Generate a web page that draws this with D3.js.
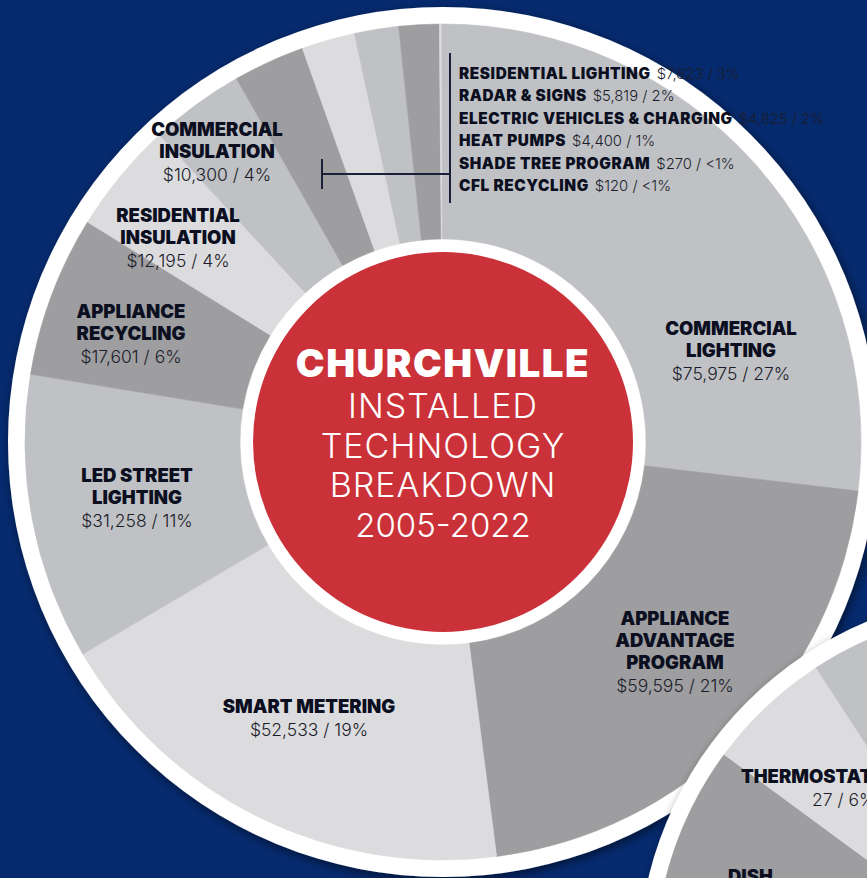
<!DOCTYPE html>
<html><head><meta charset="utf-8">
<script src="https://cdn.jsdelivr.net/npm/d3@7/dist/d3.min.js"></script>
<style>
html,body{margin:0;padding:0;background:#062a6e;overflow:hidden}
svg{display:block}
</style>
</head><body>
<svg id="c" width="867" height="878"></svg>
<script>
// ---------- DATA ----------
const categories = ["COMMERCIAL LIGHTING","APPLIANCE ADVANTAGE PROGRAM","SMART METERING","LED STREET LIGHTING","APPLIANCE RECYCLING","RESIDENTIAL INSULATION","COMMERCIAL INSULATION","RESIDENTIAL LIGHTING","RADAR & SIGNS","ELECTRIC VEHICLES & CHARGING","HEAT PUMPS","SHADE TREE PROGRAM","CFL RECYCLING"];
const values = [75975,59595,52533,31258,17601,12195,10300,7823,5819,4825,4400,270,120];
const percentLabels = ["27%","21%","19%","11%","6%","4%","4%","3%","2%","2%","1%","<1%","<1%"];
const titleLines = ["CHURCHVILLE","INSTALLED","TECHNOLOGY","BREAKDOWN","2005-2022"];

// second (neighbouring) chart, only partly visible
const categories2 = ["OTHER","DISH WASHERS","THERMOSTATS","OTHER "];
const shares2 = [70.1,15.0,5.7,9.2];
const counts2 = [null,null,27,null];
const percentLabels2 = ["","","6%",""];

// ---------- LAYOUT ----------
const W = 867, H = 878;
const cx = 443, cy = 442;
const rDisc = 435, rOuter = 418, rInner = 203, rRed = 190;
const grays = ["#bfc1c4","#9e9ea0","#dcdcde"];
const BOLD = "'Inter','Open Sans',sans-serif";
const LIGHT = "'Inter','Lato',sans-serif";
const ink = "#0b0f1f";

// big-label placement (centre x, first baseline) for the larger slices
const bigLabels = {
  "COMMERCIAL LIGHTING": {x:731, y:335, lines:["COMMERCIAL","LIGHTING"]},
  "APPLIANCE ADVANTAGE PROGRAM": {x:675, y:625, lines:["APPLIANCE","ADVANTAGE","PROGRAM"]},
  "SMART METERING": {x:309, y:713, lines:["SMART METERING"]},
  "LED STREET LIGHTING": {x:137, y:482, lines:["LED STREET","LIGHTING"]},
  "APPLIANCE RECYCLING": {x:131, y:318, lines:["APPLIANCE","RECYCLING"]},
  "RESIDENTIAL INSULATION": {x:178, y:222, lines:["RESIDENTIAL","INSULATION"]},
  "COMMERCIAL INSULATION": {x:217, y:136, lines:["COMMERCIAL","INSULATION"]}
};
const smallList = {x:459, y:79, step:22.4};

const svg = d3.select("#c");
const defs = svg.append("defs");
const f = defs.append("filter").attr("id","sh").attr("x","-20%").attr("y","-20%").attr("width","140%").attr("height","140%");
f.append("feDropShadow").attr("dx",2).attr("dy",3).attr("stdDeviation",5).attr("flood-color","#000").attr("flood-opacity",0.55);

svg.append("rect").attr("width",W).attr("height",H).attr("fill","#062a6e");

const fmt = d3.format(",");
const pie = d3.pie().sort(null).value(d=>d.v);

// ---------- MAIN DONUT ----------
const data = categories.map((c,i)=>({c, v:values[i], p:percentLabels[i], i}));
const g = svg.append("g").attr("transform",`translate(${cx},${cy})`);
g.append("circle").attr("r",rDisc).attr("fill","#fff").attr("filter","url(#sh)");
const arc = d3.arc().innerRadius(rInner).outerRadius(rOuter);
g.selectAll("path.s").data(pie(data)).join("path")
  .attr("class","s").attr("d",arc)
  .attr("fill",d=>grays[d.data.i%3])
  .attr("stroke",d=>grays[d.data.i%3]).attr("stroke-width",0.6);
g.append("circle").attr("r",rRed).attr("fill","#cb3138");

// centre title
const tt = svg.append("text").attr("text-anchor","middle").attr("fill","#fff");
const tY = [377,418,458,497,537];
titleLines.forEach((t,i)=>{
  const isDigits = /^[0-9-]+$/.test(t);
  tt.append("tspan").attr("x",cx).attr("y",tY[i]).text(t)
    .attr("font-family", i===0?BOLD:LIGHT)
    .attr("font-weight", i===0?900:300)
    .attr("font-size", i===0?38.5:(isDigits?33:34))
    .attr("letter-spacing", i===0?1.5:(isDigits?0:1));
});

// big labels
data.forEach(d=>{
  const L = bigLabels[d.c]; if(!L) return;
  const t = svg.append("text").attr("text-anchor","middle").attr("fill",ink);
  L.lines.forEach((ln,k)=>{
    t.append("tspan").attr("x",L.x).attr("y",L.y+k*21.8).text(ln)
      .attr("font-family",BOLD).attr("font-weight",900).attr("font-size",18.5);
  });
  t.append("tspan").attr("x",L.x).attr("y",L.y+(L.lines.length-1)*21.8+23)
    .text(`$${fmt(d.v)} / ${d.p}`)
    .attr("font-family",LIGHT).attr("font-weight",300).attr("font-size",17.5).attr("fill","#1b1d2b");
});

// small list
const small = data.filter(d=>!bigLabels[d.c]);
small.forEach((d,k)=>{
  const t = svg.append("text").attr("x",smallList.x).attr("y",smallList.y+k*smallList.step).attr("fill",ink);
  t.append("tspan").text(d.c).attr("font-family",BOLD).attr("font-weight",900).attr("font-size",15.3).attr("letter-spacing",0.6);
  t.append("tspan").attr("dx",6).text(`$${fmt(d.v)} / ${d.p}`)
    .attr("font-family",LIGHT).attr("font-weight",300).attr("font-size",14.8).attr("letter-spacing",0).attr("fill","#1b1d2b");
});

// bracket
const br = svg.append("g").attr("stroke","#1b2038").attr("stroke-width",2).attr("fill","none");
br.append("line").attr("x1",450).attr("x2",450).attr("y1",53).attr("y2",203);
br.append("line").attr("x1",322).attr("x2",450).attr("y1",174).attr("y2",174);
br.append("line").attr("x1",322).attr("x2",322).attr("y1",159).attr("y2",189);

// ---------- SECOND DONUT (partly off-canvas) ----------
const cx2 = 1010, cy2 = 965, rOuter2 = 355, rDisc2 = 372, rInner2 = 160, rRed2 = 147;
const data2 = categories2.map((c,i)=>({c, v:shares2[i], n:counts2[i], p:percentLabels2[i], i}));
const colors2 = ["#bfc1c4","#9e9ea0","#dcdcde","#bfc1c4"];
const g2 = svg.append("g").attr("transform",`translate(${cx2},${cy2})`);
g2.append("circle").attr("r",rDisc2).attr("fill","#fff").attr("filter","url(#sh)");
const arc2 = d3.arc().innerRadius(rInner2).outerRadius(rOuter2);
g2.selectAll("path").data(pie(data2)).join("path").attr("d",arc2)
  .attr("fill",d=>colors2[d.data.i]).attr("stroke",d=>colors2[d.data.i]).attr("stroke-width",0.6);
g2.append("circle").attr("r",rRed2).attr("fill","#cb3138");

// labels of the second chart
const th = svg.append("text").attr("fill",ink);
th.append("tspan").attr("x",741).attr("y",783).text("THERMOSTATS")
  .attr("font-family",BOLD).attr("font-weight",900).attr("font-size",18.5);
th.append("tspan").attr("x",812).attr("y",806).text(`${data2[2].n} / ${data2[2].p}`)
  .attr("font-family",LIGHT).attr("font-weight",300).attr("font-size",17.5).attr("fill","#1b1d2b");
const di = svg.append("text").attr("fill",ink);
["DISH","WASHERS"].forEach((ln,k)=>{
  di.append("tspan").attr("x",728).attr("y",883+k*21.8).text(ln)
    .attr("font-family",BOLD).attr("font-weight",900).attr("font-size",18.5);
});
</script>
</body></html>
